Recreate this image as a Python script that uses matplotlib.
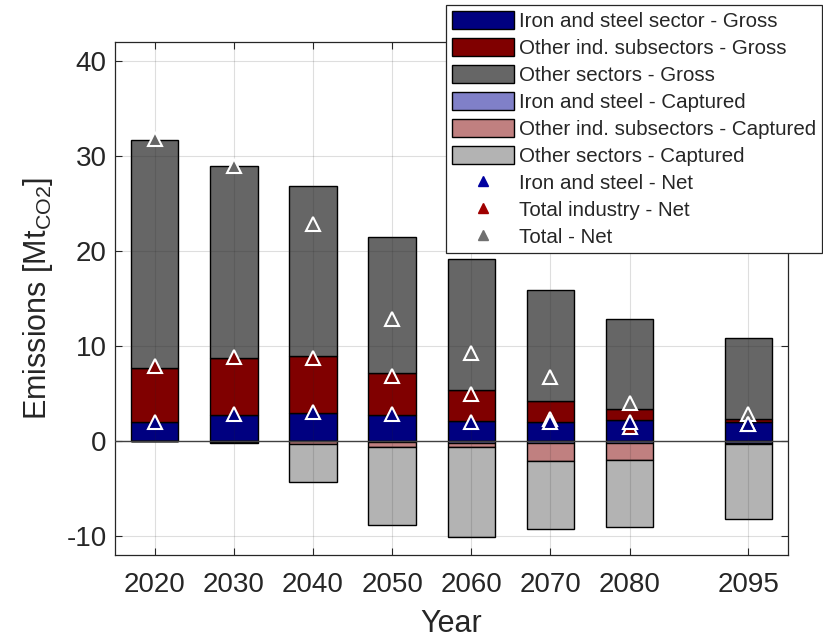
import numpy as np
import matplotlib
matplotlib.use("Agg")
import matplotlib.pyplot as plt
from matplotlib.patches import Patch
from matplotlib.lines import Line2D

plt.rcParams['font.family'] = ['Liberation Sans', 'DejaVu Sans']
plt.rcParams['mathtext.fontset'] = 'custom'
plt.rcParams['mathtext.rm'] = 'Liberation Sans'
plt.rcParams['axes.unicode_minus'] = False

years = np.array([2020, 2030, 2040, 2050, 2060, 2070, 2080, 2095])

# gross emissions per segment [Mt CO2]
iron_gross = np.array([1.96, 2.77, 3.00, 2.77, 2.10, 1.97, 2.20, 1.97])
ind_gross = np.array([5.69, 5.97, 6.00, 4.43, 3.27, 2.23, 1.13, 0.31])
other_gross = np.array([24.00, 20.16, 17.84, 14.30, 13.79, 11.70, 9.57, 8.52])

# captured emissions (drawn below zero)
iron_capt = np.array([0.0, 0.0, 0.0, 0.10, 0.20, 0.25, 0.20, 0.15])
ind_capt = np.array([0.0, 0.05, 0.35, 0.55, 0.40, 1.80, 1.75, 0.20])
other_capt = np.array([0.0, 0.10, 3.92, 8.16, 9.50, 7.25, 7.11, 7.83])

# net values
iron_net = np.array([2.0, 2.8, 3.05, 2.8, 2.0, 2.0, 2.0, 1.8])
ind_net = np.array([7.9, 8.9, 8.7, 6.8, 4.95, 2.3, 1.5, 1.85])
total_net = np.array([31.8, 28.9, 22.8, 12.9, 9.25, 6.7, 4.0, 2.85])

c_iron = '#000080'
c_ind = '#800000'
c_other = '#666666'
c_iron_c = '#8080C8'
c_ind_c = '#C08080'
c_other_c = '#B3B3B3'

fig = plt.figure(figsize=(8.23, 6.41), dpi=100)
ax = fig.add_axes([0.1397, 0.134, 0.8178, 0.8005])

w = 6
kw = dict(width=w, edgecolor='black', linewidth=1.0, zorder=2)
ax.bar(years, iron_gross, color=c_iron, **kw)
ax.bar(years, ind_gross, bottom=iron_gross, color=c_ind, **kw)
ax.bar(years, other_gross, bottom=iron_gross + ind_gross, color=c_other, **kw)
ax.bar(years, -iron_capt, color=c_iron_c, **kw)
ax.bar(years, -ind_capt, bottom=-iron_capt, color=c_ind_c, **kw)
ax.bar(years, -other_capt, bottom=-(iron_capt + ind_capt), color=c_other_c, **kw)

ax.axhline(0, color='#404040', linewidth=1.0, zorder=3)

mk = dict(linestyle='none', marker='^', markersize=10, markeredgecolor='white',
          markeredgewidth=1.5, zorder=4)
ax.plot(years, total_net, color='#666666', markerfacecolor='#666666', **mk)
ax.plot(years, ind_net, color=c_ind, markerfacecolor=c_ind, **mk)
ax.plot(years, iron_net, color=c_iron, markerfacecolor=c_iron, **mk)

ax.set_xlim(2015, 2100)
ax.set_ylim(-12, 42)
ax.set_xticks(years)
ax.set_yticks([-10, 0, 10, 20, 30, 40])
ax.tick_params(direction='in', length=5, width=0.8, labelsize=20,
               colors='#262626', top=True, right=True)
ax.tick_params(axis='x', pad=12)
ax.tick_params(axis='y', pad=6)
ax.grid(True, color='#262626', alpha=0.15, linewidth=0.8)
ax.set_axisbelow(False)
for s in ax.spines.values():
    s.set_color('#262626')
    s.set_linewidth(0.9)

ax.set_xlabel('Year', fontsize=22, color='#262626', labelpad=8)
ax.set_ylabel(r'Emissions [Mt$_{\mathrm{CO2}}$]', fontsize=22, color='#262626', labelpad=8)

handles = [
    Patch(facecolor=c_iron, edgecolor='black', label='Iron and steel sector - Gross'),
    Patch(facecolor=c_ind, edgecolor='black', label='Other ind. subsectors - Gross'),
    Patch(facecolor=c_other, edgecolor='black', label='Other sectors - Gross'),
    Patch(facecolor=c_iron_c, edgecolor='black', label='Iron and steel - Captured'),
    Patch(facecolor=c_ind_c, edgecolor='black', label='Other ind. subsectors - Captured'),
    Patch(facecolor=c_other_c, edgecolor='black', label='Other sectors - Captured'),
    Line2D([], [], linestyle='none', marker='^', markersize=7, color='#0000A0', label='Iron and steel - Net'),
    Line2D([], [], linestyle='none', marker='^', markersize=7, color='#A00000', label='Total industry - Net'),
    Line2D([], [], linestyle='none', marker='^', markersize=7, color='#707070', label='Total - Net'),
]
leg = fig.legend(handles=handles, loc='upper right', bbox_to_anchor=(0.9988, 0.992),
                 bbox_transform=fig.transFigure, fontsize=14.8, frameon=True, fancybox=False,
                 framealpha=1, edgecolor='#262626', borderaxespad=0, borderpad=0.3,
                 handlelength=3.0, handleheight=0.95, handletextpad=0.25, labelspacing=0.34)
leg.get_frame().set_linewidth(0.9)
for t in leg.get_texts():
    t.set_color('#262626')

fig.savefig('out.png', dpi=100)
